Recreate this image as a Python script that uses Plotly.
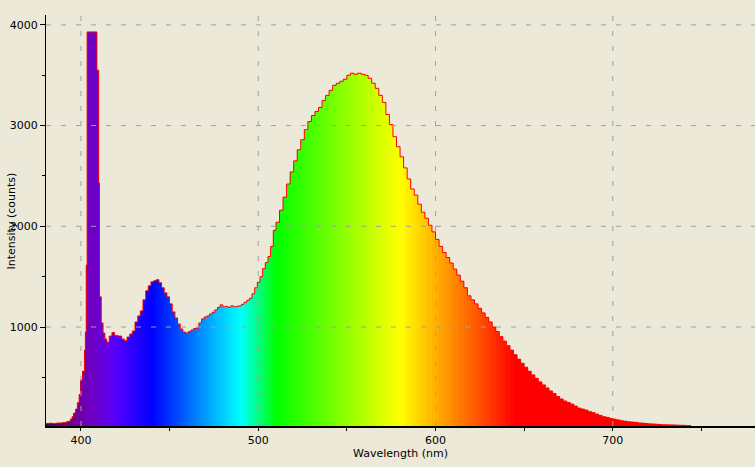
import plotly.graph_objects as go

# ---- data ----
wavelength = [
    380, 382, 384, 386, 388, 390, 392, 394, 395, 396, 397, 398, 399, 400, 401, 402, 402.5, 403, 403.5,
    409, 410, 410.5, 411.5, 412.5, 413.5, 414.5, 416, 417.5, 419, 421, 423, 424.5, 426, 427.5, 429,
    430.5, 432, 433.5, 435, 436.5, 438, 439.5, 441, 442.5, 444, 445.5, 447, 448.5, 450, 451.5, 453,
    454.5, 456, 457.5, 459, 460.5, 462, 463.5, 465, 466.5, 468, 469.5, 471, 472.5, 474, 475.5, 477,
    478.5, 480, 481.5, 483, 484.5, 486, 487.5, 489, 490.5, 492, 493.5, 495, 496.5, 498, 499.5, 501,
    502.5, 504, 505.5, 507, 508.5,
    510, 512, 514, 516, 518, 520, 522, 524, 526, 528, 530, 532, 534, 536, 538, 540, 542, 544, 546,
    548, 550, 552, 554, 556, 558, 560, 562, 564, 566, 568, 570, 572, 574, 576, 578, 580, 582, 584,
    586, 588, 590, 592, 594, 596, 598, 600, 602, 604, 606, 608, 610, 612, 614, 616, 618, 620, 622,
    624, 626, 628, 630, 632, 634, 636, 638, 640, 642, 644, 646, 648, 650, 652, 654, 656, 658, 660,
    662, 664, 666, 668, 670, 672, 674, 676, 678, 680, 682, 684, 686, 688, 690, 692, 694, 696, 698,
    700, 702, 704, 706, 708, 710, 712, 714, 716, 718, 720, 722, 724, 726, 728, 730, 732, 734, 736,
    738, 740, 742, 744,
]
intensity = [
    42, 44, 42, 46, 48, 52, 62, 85, 110, 145, 185, 250, 330, 475, 560, 770, 950, 1615, 3930,
    3550, 2430, 1300, 1040, 940, 880, 850, 910, 945, 915, 910, 880, 865, 900, 930, 960,
    1050, 1110, 1160, 1270, 1360, 1410, 1450, 1460, 1470, 1440, 1390, 1340, 1300, 1230, 1150, 1090,
    1030, 980, 950, 940, 955, 970, 985, 990, 1040, 1080, 1100, 1110, 1130, 1145, 1170, 1195,
    1220, 1200, 1205, 1195, 1210, 1200, 1205, 1210, 1225, 1245, 1265, 1285, 1330, 1390, 1445, 1500,
    1580, 1640, 1700, 1800, 1960,
    2040, 2160, 2290, 2420, 2540, 2650, 2760, 2860, 2960, 3040, 3100, 3140, 3180, 3250, 3300, 3350, 3400, 3420, 3440,
    3460, 3500, 3520, 3510, 3520, 3510, 3500, 3470, 3420, 3370, 3300, 3230, 3110, 3010, 2890, 2790, 2690, 2580, 2470,
    2370, 2310, 2220, 2140, 2080, 2010, 1945, 1870, 1800, 1740, 1690, 1635, 1575, 1515, 1455, 1390, 1310, 1270, 1230,
    1185, 1140, 1095, 1050, 1000, 955, 905, 860, 815, 770, 725, 680, 640, 600, 560, 525, 490, 455, 425,
    395, 365, 340, 310, 285, 265, 250, 235, 215, 195, 185, 175, 160, 150, 135, 122, 110, 102, 92,
    85, 78, 70, 64, 60, 56, 53, 48, 45, 42, 39, 37, 34, 32, 30, 29, 28, 27, 25,
    24, 23, 22, 0,
]
x_ticks = [400, 500, 600, 700]
y_ticks = [1000, 2000, 3000, 4000]
x_title = "Wavelength (nm)"
y_title = "Intensity (counts)"

BG = "#ECE9D8"
FONT = "DejaVu Sans"


def wl_color(w):
    if w < 440:
        r, g, b = (440 - w) / 60, 0.0, 1.0
    elif w < 490:
        r, g, b = 0.0, (w - 440) / 50, 1.0
    elif w < 510:
        r, g, b = 0.0, 1.0, (510 - w) / 20
    elif w < 580:
        r, g, b = (w - 510) / 70, 1.0, 0.0
    elif w < 645:
        r, g, b = 1.0, (645 - w) / 65, 0.0
    else:
        r, g, b = 1.0, 0.0, 0.0
    f = 0.3 + 0.7 * (w - 380) / 40 if w < 420 else 1.0
    r, g, b = (max(0.0, min(1.0, c * f)) for c in (r, g, b))
    return "rgb(%d,%d,%d)" % (round(r * 255), round(g * 255), round(b * 255))


widths = [wavelength[i + 1] - wavelength[i] for i in range(len(wavelength) - 1)] + [1]
colors = [wl_color(w + wd / 2) for w, wd in zip(wavelength, widths)]

fig = go.Figure()
fig.add_trace(go.Bar(
    x=wavelength, y=intensity, width=widths, offset=0,
    marker=dict(color=colors, line=dict(width=0)),
    hoverinfo="skip", showlegend=False,
))
fig.add_trace(go.Scatter(
    x=wavelength, y=intensity, mode="lines", line=dict(color="#FF0000", width=1, shape="hv"),
    showlegend=False, hoverinfo="skip",
))

shapes = []
for xv in x_ticks:
    shapes.append(dict(type="line", xref="x", yref="paper", x0=xv, x1=xv, y0=0, y1=1, layer="above",
                       line=dict(color="#A0A0A0", width=1, dash="5px,10px")))
for yv in y_ticks:
    shapes.append(dict(type="line", xref="paper", yref="y", x0=0, x1=1, y0=yv, y1=yv, layer="above",
                       line=dict(color="#A0A0A0", width=1, dash="5px,10px")))

fig.update_layout(
    width=755, height=467,
    paper_bgcolor=BG, plot_bgcolor=BG,
    margin=dict(l=46, r=0, t=15, b=41, autoexpand=False),
    bargap=0,
    shapes=shapes,
    font=dict(family=FONT, size=11, color="#000000"),
    annotations=[dict(
        text=y_title, xref="paper", yref="paper", x=-0.048, y=0.5,
        xanchor="center", yanchor="middle", textangle=-90, showarrow=False,
        font=dict(size=11, family=FONT, color="#000000"),
    )],
    xaxis=dict(
        range=[380.3, 780.2], tickvals=x_ticks, ticktext=[str(v) for v in x_ticks],
        showgrid=False, zeroline=False, showline=True, linecolor="#000000", linewidth=2,
        ticks="outside", ticklen=3, tickcolor="#000000", automargin=False,
        minor=dict(dtick=50, tick0=0, ticks="outside", ticklen=3, tickcolor="#000000", showgrid=False),
        title=dict(text=x_title, standoff=3, font=dict(size=11)),
        layer="above traces",
    ),
    yaxis=dict(
        range=[17, 4098], tickvals=y_ticks, ticktext=[str(v) for v in y_ticks],
        showgrid=False, zeroline=False, showline=True, linecolor="#000000", linewidth=1,
        ticks="outside", ticklen=5, tickcolor="#000000", automargin=False,
        minor=dict(dtick=500, tick0=0, ticks="outside", ticklen=3, tickcolor="#000000", showgrid=False),
        layer="above traces",
    ),
)

fig.write_html(
    "out.html",
    config={"displayModeBar": False},
    post_script="document.body.style.margin='0';document.body.style.overflow='hidden';",
)
